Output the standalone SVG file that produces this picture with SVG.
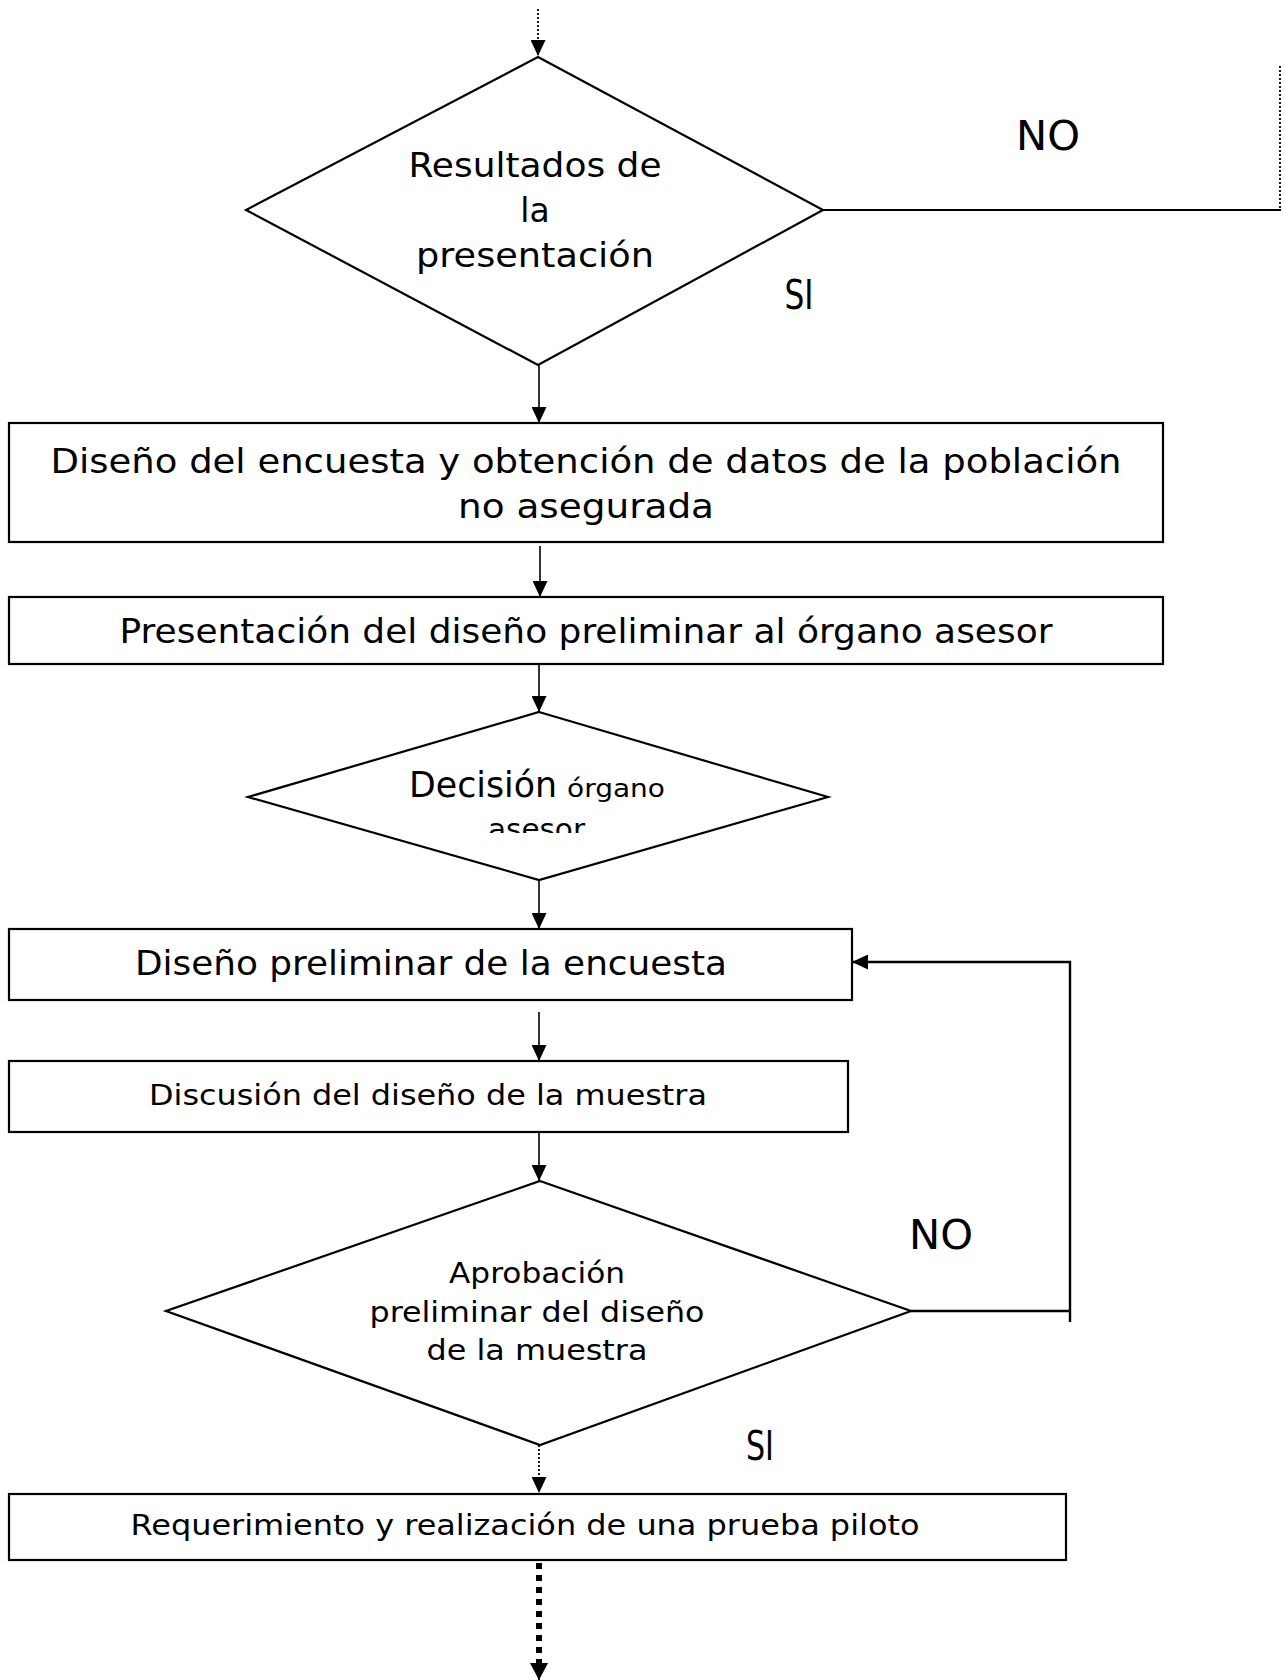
<svg xmlns="http://www.w3.org/2000/svg" width="1287" height="1680" viewBox="0 0 1287 1680">
<style>
  .shape { fill: #ffffff; stroke: #000000; stroke-width: 2.2; }
  .conn { fill: none; stroke: #000000; stroke-width: 1.6; }
  .fb { fill: none; stroke: #000000; stroke-width: 2.4; }
  .dot { fill: none; stroke: #000000; stroke-width: 1.8; stroke-dasharray: 2 2; }
  .thick { fill: none; stroke: #000000; stroke-width: 6; stroke-dasharray: 6 6; }
  text { font-family: "DejaVu Sans", "Liberation Sans", sans-serif; fill: #000000; }
  .cg { font-size: 33px; text-anchor: middle; }
  .vd { font-size: 29px; text-anchor: middle; }
  .lbl { font-size: 40px; text-anchor: middle; }
</style>
<defs>
  <marker id="ah" markerUnits="userSpaceOnUse" markerWidth="16" markerHeight="15" refX="16" refY="7.5" orient="auto">
    <path d="M0,0 L16,7.5 L0,15 z" fill="#000000"/>
  </marker>
  <marker id="ahb" markerUnits="userSpaceOnUse" markerWidth="18" markerHeight="18" refX="17" refY="9" orient="auto">
    <path d="M0,0 L17,9 L0,18 z" fill="#000000"/>
  </marker>
  <clipPath id="clipAsesor">
    <rect x="380" y="740" width="340" height="93"/>
  </clipPath>
</defs>
<rect x="0" y="0" width="1287" height="1680" fill="#ffffff"/>

<g id="connectors">
  <line class="dot" x1="538" y1="9" x2="538" y2="56" marker-end="url(#ah)"/>
  <polyline class="conn" points="823,210 1281,210" style="stroke-width:2.2"/>
  <line class="dot" x1="1280" y1="66" x2="1280" y2="210"/>
  <line class="conn" x1="539" y1="352" x2="539" y2="423" marker-end="url(#ah)"/>
  <line class="conn" x1="540" y1="546" x2="540" y2="597" marker-end="url(#ah)"/>
  <line class="conn" x1="539" y1="664" x2="539" y2="712" marker-end="url(#ah)"/>
  <line class="conn" x1="539" y1="880" x2="539" y2="929" marker-end="url(#ah)"/>
  <line class="conn" x1="539" y1="1012" x2="539" y2="1061" marker-end="url(#ah)"/>
  <line class="conn" x1="539" y1="1132" x2="539" y2="1181" marker-end="url(#ah)"/>
  <polyline class="fb" points="911,1311 1070,1311"/>
  <polyline class="fb" points="1070,1322 1070,962 852,962" marker-end="url(#ah)"/>
  <line class="dot" x1="539" y1="1445" x2="539" y2="1493" marker-end="url(#ah)"/>
  <line class="thick" x1="539" y1="1563" x2="539" y2="1664"/>
  <line class="conn" x1="539" y1="1660" x2="539" y2="1680" marker-end="url(#ahb)"/>
</g>

<g id="decision-resultados">
  <polygon class="shape" points="538,57 823,210 538,365 246,210"/>
  <text class="cg" x="535" y="177" textLength="253" lengthAdjust="spacingAndGlyphs">Resultados de</text>
  <text class="cg" x="535" y="222">la</text>
  <text class="cg" x="535" y="267" textLength="238" lengthAdjust="spacingAndGlyphs">presentación</text>
</g>

<g id="label-no-1">
  <text class="lbl" x="1048" y="150" textLength="64" lengthAdjust="spacingAndGlyphs">NO</text>
</g>
<g id="label-si-1">
  <text class="lbl" x="799" y="309" textLength="29" lengthAdjust="spacingAndGlyphs">SI</text>
</g>

<g id="box-diseno-encuesta">
  <rect class="shape" x="9" y="423" width="1154" height="119"/>
  <text class="cg" x="586" y="473" textLength="1071" lengthAdjust="spacingAndGlyphs">Diseño del encuesta y obtención de datos de la población</text>
  <text class="cg" x="586" y="518" textLength="256" lengthAdjust="spacingAndGlyphs">no asegurada</text>
</g>

<g id="box-presentacion">
  <rect class="shape" x="9" y="597" width="1154" height="67"/>
  <text class="cg" x="586" y="643" textLength="933" lengthAdjust="spacingAndGlyphs">Presentación del diseño preliminar al órgano asesor</text>
</g>

<g id="decision-organo">
  <polygon class="shape" points="539,712 828,797 539,880 248,797"/>
  <text x="409" y="797" style="font-size:35px" textLength="148" lengthAdjust="spacingAndGlyphs">Decisión</text>
  <text x="567" y="797" style="font-size:25px" textLength="98" lengthAdjust="spacingAndGlyphs">órgano</text>
  <text x="488" y="839" style="font-size:29px" textLength="97" lengthAdjust="spacingAndGlyphs" clip-path="url(#clipAsesor)">asesor</text>
</g>

<g id="box-diseno-preliminar">
  <rect class="shape" x="9" y="929" width="843" height="71"/>
  <text class="cg" x="431" y="975" textLength="592" lengthAdjust="spacingAndGlyphs">Diseño preliminar de la encuesta</text>
</g>

<g id="box-discusion">
  <rect class="shape" x="9" y="1061" width="839" height="71"/>
  <text class="vd" x="428" y="1105" textLength="558" lengthAdjust="spacingAndGlyphs">Discusión del diseño de la muestra</text>
</g>

<g id="decision-aprobacion">
  <polygon class="shape" points="540,1181 911,1311 540,1445 166,1311"/>
  <text class="vd" x="537" y="1283" textLength="176" lengthAdjust="spacingAndGlyphs">Aprobación</text>
  <text class="vd" x="537" y="1322" textLength="335" lengthAdjust="spacingAndGlyphs">preliminar del diseño</text>
  <text class="vd" x="537" y="1360" textLength="221" lengthAdjust="spacingAndGlyphs">de la muestra</text>
</g>

<g id="label-no-2">
  <text class="lbl" x="941" y="1249" textLength="64" lengthAdjust="spacingAndGlyphs">NO</text>
</g>
<g id="label-si-2">
  <text class="lbl" x="760" y="1460" textLength="28" lengthAdjust="spacingAndGlyphs">SI</text>
</g>

<g id="box-prueba-piloto">
  <rect class="shape" x="9" y="1494" width="1057" height="66"/>
  <text class="vd" x="525" y="1535" textLength="789" lengthAdjust="spacingAndGlyphs">Requerimiento y realización de una prueba piloto</text>
</g>
</svg>
